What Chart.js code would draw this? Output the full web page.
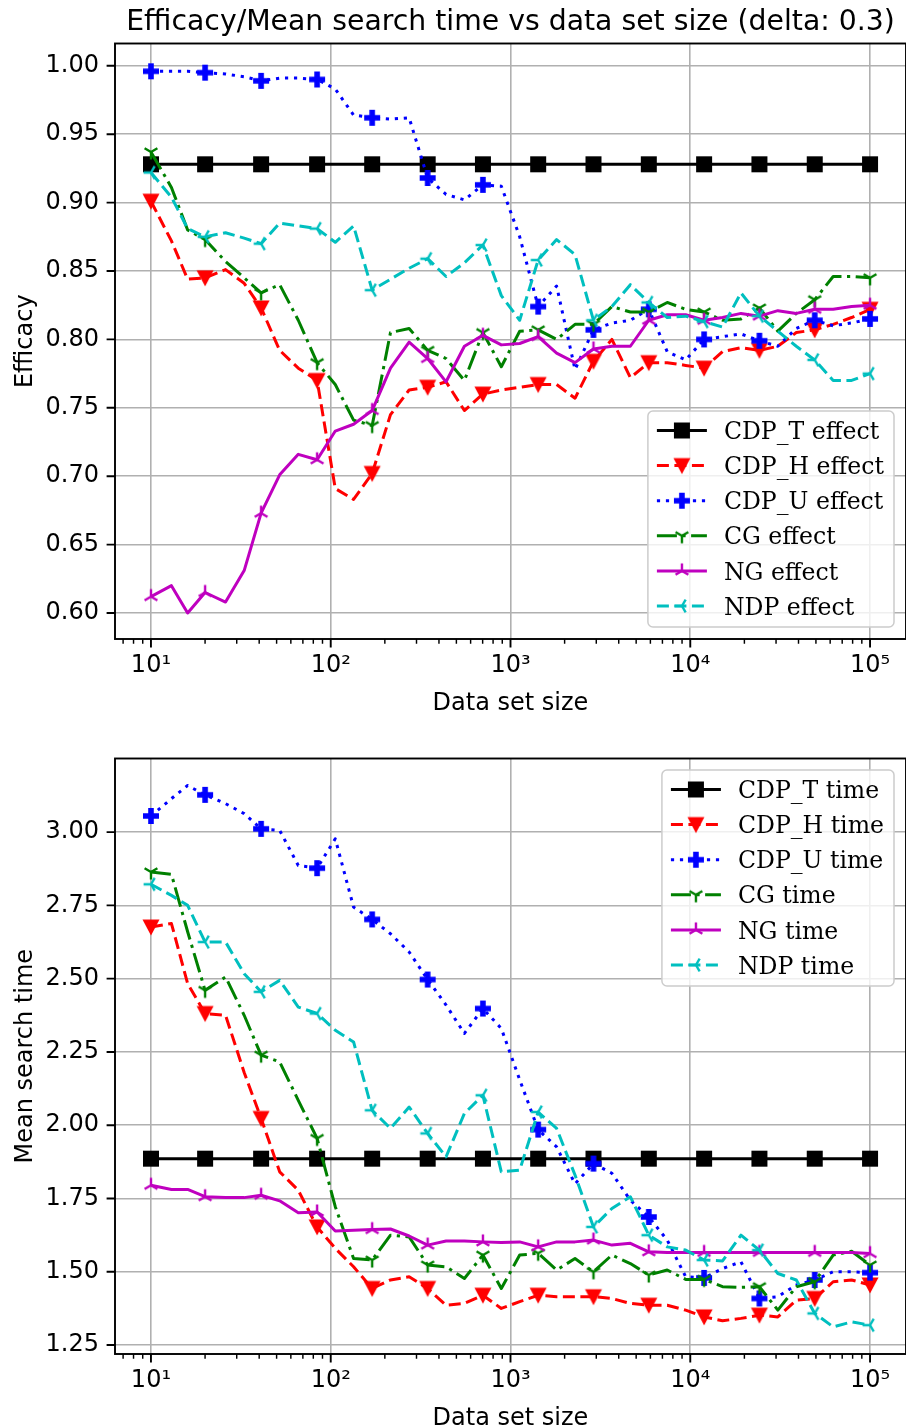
<!DOCTYPE html>
<html>
<head>
<meta charset="utf-8">
<script src="https://cdn.jsdelivr.net/npm/chart.js@4.4.1/dist/chart.umd.min.js"></script>
<style>
  html, body { margin: 0; padding: 0; background: #fff; }
  body { width: 906px; height: 1428px; position: relative; overflow: hidden; }
  canvas { position: absolute; left: 0; }
  #effect { top: 0; }
  #time { top: 715px; }
</style>
</head>
<body>
<canvas id="effect" width="906" height="715"></canvas>
<canvas id="time" width="906" height="713"></canvas>
<script>
// data set sizes (x axis)
const SIZES = [10, 13, 16, 20, 26, 33, 41, 52, 66, 84, 106, 134, 170, 215, 273, 346, 438, 554, 702, 889,
  1125, 1425, 1805, 2285, 2894, 3665, 4642, 5878, 7444, 9427, 11938, 15118, 19145, 24245, 30703, 38882,
  49239, 62355, 78965, 100000];

// efficacy per method
const CDP_T_EFFECT = [
  0.928, 0.928, 0.928, 0.928, 0.928, 0.928, 0.928, 0.928, 0.928, 0.928,
  0.928, 0.928, 0.928, 0.928, 0.928, 0.928, 0.928, 0.928, 0.928, 0.928,
  0.928, 0.928, 0.928, 0.928, 0.928, 0.928, 0.928, 0.928, 0.928, 0.928,
  0.928, 0.928, 0.928, 0.928, 0.928, 0.928, 0.928, 0.928, 0.928, 0.928];
const CDP_H_EFFECT = [
  0.901, 0.872, 0.844, 0.845, 0.851, 0.841, 0.823, 0.792, 0.779, 0.770,
  0.691, 0.683, 0.702, 0.745, 0.763, 0.765, 0.769, 0.748, 0.760, 0.763,
  0.765, 0.767, 0.767, 0.757, 0.784, 0.800, 0.772, 0.783, 0.783, 0.781,
  0.779, 0.791, 0.794, 0.792, 0.795, 0.805, 0.807, 0.811, 0.816, 0.822];
const CDP_U_EFFECT = [
  0.996, 0.996, 0.996, 0.995, 0.994, 0.992, 0.989, 0.991, 0.991, 0.990,
  0.983, 0.964, 0.962, 0.961, 0.962, 0.918, 0.906, 0.902, 0.913, 0.912,
  0.875, 0.824, 0.839, 0.778, 0.807, 0.812, 0.814, 0.822, 0.791, 0.785,
  0.800, 0.802, 0.804, 0.799, 0.795, 0.808, 0.814, 0.810, 0.812, 0.815];
const CG_EFFECT = [
  0.937, 0.911, 0.880, 0.873, 0.857, 0.845, 0.834, 0.840, 0.814, 0.783,
  0.767, 0.741, 0.737, 0.805, 0.808, 0.792, 0.786, 0.770, 0.805, 0.780,
  0.806, 0.807, 0.800, 0.811, 0.811, 0.824, 0.820, 0.820, 0.827, 0.822,
  0.820, 0.814, 0.815, 0.823, 0.806, 0.819, 0.829, 0.846, 0.846, 0.845];
const NG_EFFECT = [
  0.612, 0.620, 0.600, 0.615, 0.608, 0.631, 0.673, 0.701, 0.716, 0.712,
  0.733, 0.738, 0.748, 0.779, 0.798, 0.786, 0.769, 0.795, 0.803, 0.796,
  0.797, 0.802, 0.790, 0.783, 0.793, 0.795, 0.795, 0.814, 0.818, 0.818,
  0.814, 0.816, 0.819, 0.817, 0.821, 0.819, 0.822, 0.822, 0.824, 0.825];
const NDP_EFFECT = [
  0.922, 0.904, 0.881, 0.875, 0.878, 0.874, 0.870, 0.885, 0.883, 0.881,
  0.871, 0.883, 0.836, 0.844, 0.852, 0.859, 0.846, 0.856, 0.869, 0.832,
  0.814, 0.858, 0.873, 0.862, 0.814, 0.824, 0.840, 0.827, 0.816, 0.817,
  0.813, 0.809, 0.834, 0.817, 0.806, 0.795, 0.785, 0.770, 0.770, 0.775];

// mean search time per method
const CDP_T_TIME = [
  1.886, 1.886, 1.886, 1.886, 1.886, 1.886, 1.886, 1.886, 1.886, 1.886,
  1.886, 1.886, 1.886, 1.886, 1.886, 1.886, 1.886, 1.886, 1.886, 1.886,
  1.886, 1.886, 1.886, 1.886, 1.886, 1.886, 1.886, 1.886, 1.886, 1.886,
  1.886, 1.886, 1.886, 1.886, 1.886, 1.886, 1.886, 1.886, 1.886, 1.886];
const CDP_H_TIME = [
  2.676, 2.688, 2.483, 2.381, 2.375, 2.180, 2.023, 1.841, 1.778, 1.653,
  1.580, 1.517, 1.443, 1.472, 1.483, 1.443, 1.386, 1.392, 1.420, 1.375,
  1.398, 1.420, 1.415, 1.415, 1.415, 1.409, 1.392, 1.386, 1.386, 1.369,
  1.346, 1.333, 1.341, 1.352, 1.346, 1.403, 1.409, 1.466, 1.472, 1.455];
const CDP_U_TIME = [
  3.055, 3.114, 3.159, 3.127, 3.097, 3.063, 3.011, 3.006, 2.886, 2.877,
  2.977, 2.744, 2.702, 2.653, 2.591, 2.497, 2.410, 2.313, 2.398, 2.330,
  2.155, 1.985, 1.926, 1.800, 1.869, 1.836, 1.744, 1.687, 1.608, 1.483,
  1.479, 1.511, 1.534, 1.409, 1.415, 1.455, 1.472, 1.500, 1.500, 1.497];
const CG_TIME = [
  2.864, 2.856, 2.660, 2.460, 2.506, 2.375, 2.239, 2.216, 2.085, 1.955,
  1.722, 1.545, 1.540, 1.625, 1.619, 1.523, 1.517, 1.477, 1.557, 1.443,
  1.557, 1.563, 1.506, 1.545, 1.500, 1.557, 1.528, 1.489, 1.506, 1.474,
  1.474, 1.449, 1.447, 1.449, 1.369, 1.449, 1.466, 1.557, 1.570, 1.523];
const NG_TIME = [
  1.795, 1.781, 1.781, 1.756, 1.753, 1.753, 1.761, 1.742, 1.701, 1.704,
  1.639, 1.642, 1.644, 1.646, 1.622, 1.591, 1.605, 1.605, 1.602, 1.600,
  1.602, 1.585, 1.602, 1.602, 1.608, 1.591, 1.597, 1.568, 1.566, 1.566,
  1.566, 1.566, 1.566, 1.566, 1.566, 1.566, 1.566, 1.566, 1.566, 1.562];
const NDP_TIME = [
  2.822, 2.784, 2.750, 2.625, 2.625, 2.517, 2.455, 2.494, 2.403, 2.381,
  2.324, 2.284, 2.051, 1.989, 2.062, 1.972, 1.892, 2.040, 2.102, 1.841,
  1.847, 2.045, 1.989, 1.830, 1.653, 1.716, 1.756, 1.625, 1.585, 1.574,
  1.540, 1.537, 1.625, 1.574, 1.494, 1.472, 1.358, 1.312, 1.329, 1.318];

// tick labels
const X_TICKS = [10, 100, 1000, 10000, 100000];
const X_TICK_LABELS = ['10¹', '10²', '10³', '10⁴', '10⁵'];
const EFFECT_TICKS = [0.60, 0.65, 0.70, 0.75, 0.80, 0.85, 0.90, 0.95, 1.00];
const TIME_TICKS = [1.25, 1.50, 1.75, 2.00, 2.25, 2.50, 2.75, 3.00];

const SANS = 'DejaVu Sans';
const SERIF = 'DejaVu Serif';
Chart.defaults.font.family = SANS;

// --- marker glyphs drawn onto small canvases, used as pointStyle ---
function marker(kind, color) {
  const c = document.createElement('canvas');
  c.width = c.height = 20;
  const g = c.getContext('2d');
  g.translate(10, 10);
  g.fillStyle = color;
  g.strokeStyle = color;
  g.lineWidth = 2.4;
  g.lineCap = 'butt';
  const spokes = dirs => {
    g.beginPath();
    dirs.forEach(([dx, dy]) => { g.moveTo(0, 0); g.lineTo(dx * 7.4, dy * 7.4); });
    g.stroke();
  };
  if (kind === 's') {
    g.fillRect(-8, -8, 16, 16);
  } else if (kind === 'v') {
    g.beginPath();
    g.moveTo(-8.5, -7.5); g.lineTo(8.5, -7.5); g.lineTo(0, 8.5); g.closePath();
    g.fill();
  } else if (kind === 'P') {
    const a = 2.8, L = 8;
    g.beginPath();
    [[-a, -L], [a, -L], [a, -a], [L, -a], [L, a], [a, a], [a, L], [-a, L], [-a, a], [-L, a], [-L, -a], [-a, -a]]
      .forEach(([x, y], i) => i ? g.lineTo(x, y) : g.moveTo(x, y));
    g.closePath();
    g.fill();
  } else if (kind === '1') {
    spokes([[0, 1], [0.866, -0.5], [-0.866, -0.5]]);
  } else if (kind === '2') {
    spokes([[0, -1], [0.866, 0.5], [-0.866, 0.5]]);
  } else if (kind === '3') {
    spokes([[-1, 0], [0.5, -0.866], [0.5, 0.866]]);
  }
  return c;
}

const STYLES = [
  { color: '#000000', dash: [], mk: 's' },
  { color: '#ff0000', dash: [12, 5.5], mk: 'v' },
  { color: '#0000ff', dash: [3.2, 5.8], mk: 'P' },
  { color: '#008000', dash: [20, 5.5, 3.2, 5.5], mk: '1' },
  { color: '#bf00bf', dash: [], mk: '2' },
  { color: '#00bfbf', dash: [12, 5.5], mk: '3' }
];

function series(label, values, i) {
  const st = STYLES[i];
  return {
    label,
    data: values.map((v, k) => ({ x: SIZES[k], y: v })),
    borderColor: st.color,
    backgroundColor: st.color,
    borderWidth: 3,
    borderDash: st.dash,
    borderJoinStyle: 'round',
    pointStyle: marker(st.mk, st.color),
    pointRadius: ctx => (ctx.dataIndex % 3 === 0 ? 8 : 0),
    pointHoverRadius: 0,
    pointBorderWidth: 0,
    tension: 0,
    fill: false,
    order: STYLES.length - i
  };
}

// --- frame, ticks, titles and legend drawn like a matplotlib axes ---
function drawLegend(chart, where) {
  const ctx = chart.ctx, a = chart.chartArea;
  const sets = chart.data.datasets;
  ctx.font = `23.6px "${SERIF}"`;
  const textW = Math.max(...sets.map(d => ctx.measureText(d.label).width));
  const rowH = 35.1;
  const w = 9 + 50 + 17 + textW + 10;
  const h = 19.5 + rowH * (sets.length - 1) + 21;
  const x0 = a.right - 12 - w;
  const y0 = where === 'upper right' ? a.top + 11.5 : a.bottom - 12 - h;

  ctx.save();
  ctx.beginPath();
  ctx.roundRect(x0, y0, w, h, 5);
  ctx.fillStyle = 'rgba(255,255,255,0.8)';
  ctx.fill();
  ctx.lineWidth = 1.5;
  ctx.strokeStyle = '#cccccc';
  ctx.stroke();

  sets.forEach((d, i) => {
    const cy = y0 + 19.5 + i * rowH;
    ctx.setLineDash(d.borderDash);
    ctx.lineWidth = 3;
    ctx.strokeStyle = d.borderColor;
    ctx.beginPath();
    ctx.moveTo(x0 + 9, cy);
    ctx.lineTo(x0 + 59, cy);
    ctx.stroke();
    ctx.setLineDash([]);
    const m = d.pointStyle;
    ctx.drawImage(m, x0 + 34 - m.width / 2, cy - m.height / 2);
    ctx.fillStyle = '#000';
    ctx.textBaseline = 'alphabetic';
    ctx.textAlign = 'left';
    ctx.fillText(d.label, x0 + 76, cy + 8.6);
  });
  ctx.restore();
}

const axesDecor = {
  id: 'axesDecor',
  beforeDraw(chart) {
    const ctx = chart.ctx;
    ctx.save();
    ctx.fillStyle = '#fff';
    ctx.fillRect(0, 0, chart.width, chart.height);
    ctx.restore();
  },
  afterDraw(chart, args, opts) {
    const ctx = chart.ctx, a = chart.chartArea;
    const xs = chart.scales.x, ys = chart.scales.y;
    ctx.save();
    ctx.strokeStyle = '#000';

    // major ticks
    ctx.lineWidth = 1.9;
    ctx.beginPath();
    xs.ticks.forEach(t => {
      const px = xs.getPixelForValue(t.value);
      ctx.moveTo(px, a.bottom); ctx.lineTo(px, a.bottom + 8.4);
    });
    ys.ticks.forEach(t => {
      const py = ys.getPixelForValue(t.value);
      ctx.moveTo(a.left, py); ctx.lineTo(a.left - 8.4, py);
    });
    ctx.stroke();

    // minor ticks of the log axis
    ctx.lineWidth = 1.45;
    ctx.beginPath();
    for (let e = 0; e <= 5; e++) {
      for (let m = 2; m <= 9; m++) {
        const v = m * Math.pow(10, e);
        if (v < xs.min || v > xs.max) continue;
        const px = xs.getPixelForValue(v);
        ctx.moveTo(px, a.bottom); ctx.lineTo(px, a.bottom + 4.8);
      }
    }
    ctx.stroke();

    // spines
    ctx.lineWidth = 1.9;
    ctx.strokeRect(a.left, a.top, a.right - a.left, a.bottom - a.top);

    // texts
    ctx.fillStyle = '#000';
    ctx.textAlign = 'center';
    ctx.textBaseline = 'alphabetic';
    const cx = (a.left + a.right) / 2;
    if (opts.title) {
      ctx.font = `28.3px "${SANS}"`;
      ctx.fillText(opts.title, cx, 30);
    }
    ctx.font = `24px "${SANS}"`;
    ctx.fillText(opts.xLabel, cx, a.bottom + 70.5);
    ctx.save();
    ctx.translate(32, (a.top + a.bottom) / 2);
    ctx.rotate(-Math.PI / 2);
    ctx.fillText(opts.yLabel, 0, 0);
    ctx.restore();

    ctx.restore();
    drawLegend(chart, opts.legend);
  }
};

function makeChart(id, datasets, yMin, yMax, yTicks, axisH, opts) {
  const gridStyle = { color: '#b0b0b0', lineWidth: 1.6, drawTicks: false };
  const tickFont = { family: SANS, size: 24 };
  return new Chart(document.getElementById(id), {
    type: 'line',
    data: { datasets },
    plugins: [axesDecor],
    options: {
      responsive: false,
      animation: false,
      events: [],
      layout: { autoPadding: false, padding: { top: 43.5, left: 0, right: 0, bottom: 0 } },
      plugins: {
        legend: { display: false },
        tooltip: { enabled: false },
        axesDecor: opts
      },
      scales: {
        x: {
          type: 'logarithmic',
          min: 6.3096,
          max: 158489,
          grid: gridStyle,
          border: { display: false },
          afterBuildTicks: s => { s.ticks = X_TICKS.map(v => ({ value: v, major: true })); },
          afterFit: s => { s.height = axisH; s.paddingLeft = 0; s.paddingRight = 0; },
          ticks: {
            font: tickFont, color: '#000', padding: 12, autoSkip: false, maxRotation: 0,
            callback: v => X_TICK_LABELS[X_TICKS.indexOf(v)]
          }
        },
        y: {
          type: 'linear',
          min: yMin,
          max: yMax,
          grid: gridStyle,
          border: { display: false },
          afterBuildTicks: s => { s.ticks = yTicks.map(v => ({ value: v })); },
          afterFit: s => { s.width = 115; s.paddingTop = 0; s.paddingBottom = 0; },
          ticks: {
            font: tickFont, color: '#000', padding: 16, autoSkip: false,
            callback: v => v.toFixed(2)
          }
        }
      }
    }
  });
}

makeChart('effect', [
  series('CDP_T effect', CDP_T_EFFECT, 0),
  series('CDP_H effect', CDP_H_EFFECT, 1),
  series('CDP_U effect', CDP_U_EFFECT, 2),
  series('CG effect', CG_EFFECT, 3),
  series('NG effect', NG_EFFECT, 4),
  series('NDP effect', NDP_EFFECT, 5)
], 0.581, 1.0163, EFFECT_TICKS, 76, {
  title: 'Efficacy/Mean search time vs data set size (delta: 0.3)',
  xLabel: 'Data set size',
  yLabel: 'Efficacy',
  legend: 'lower right'
});

makeChart('time', [
  series('CDP_T time', CDP_T_TIME, 0),
  series('CDP_H time', CDP_H_TIME, 1),
  series('CDP_U time', CDP_U_TIME, 2),
  series('CG time', CG_TIME, 3),
  series('NG time', NG_TIME, 4),
  series('NDP time', NDP_TIME, 5)
], 1.2195, 3.251, TIME_TICKS, 74, {
  xLabel: 'Data set size',
  yLabel: 'Mean search time',
  legend: 'upper right'
});
</script>
</body>
</html>
